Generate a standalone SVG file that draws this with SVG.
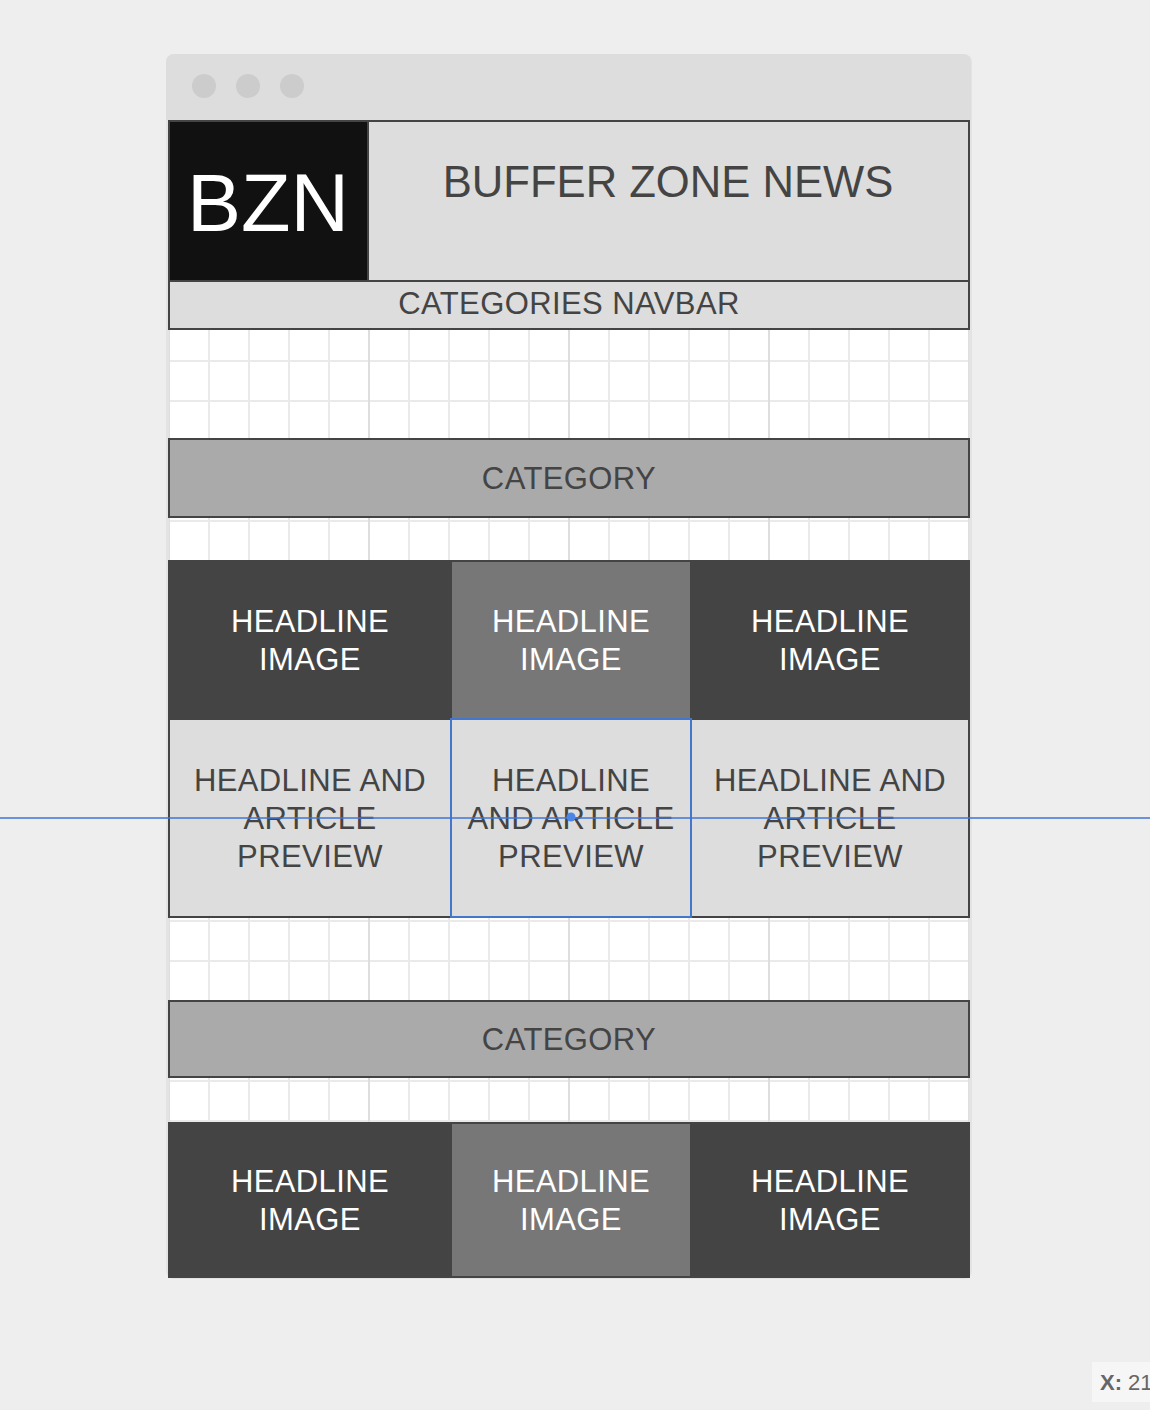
<svg xmlns="http://www.w3.org/2000/svg" width="1150" height="1410" viewBox="0 0 1150 1410">
<style>
.t{font-family:"Liberation Sans",Arial,sans-serif;text-anchor:middle}
.dk{fill:#444444}
.wt{fill:#ffffff}
.s30{font-size:31px;letter-spacing:0.4px}
.cell{stroke:#444444;stroke-width:2}
</style>
<defs>
<pattern id="minor" x="8" y="0" width="40" height="40" patternUnits="userSpaceOnUse">
<path d="M1 0V40M0 1H40" fill="none" stroke="#eaeaea" stroke-width="2"/>
</pattern>
<pattern id="major" x="168" y="0" width="200" height="40" patternUnits="userSpaceOnUse">
<path d="M1 0V40" fill="none" stroke="#dedede" stroke-width="2"/>
</pattern>
</defs>
<rect width="1150" height="1410" fill="#eeeeee"/>
<g id="window">
<rect x="166" y="54" width="806" height="1225" rx="8" fill="#e3e3e3"/>
<path d="M174 54H963A8 8 0 0 1 971 62V120H166V62A8 8 0 0 1 174 54Z" fill="#dddddd"/>
<circle cx="204" cy="86" r="12" fill="#cccccc"/>
<circle cx="248" cy="86" r="12" fill="#cccccc"/>
<circle cx="292" cy="86" r="12" fill="#cccccc"/>
<rect x="169" y="120" width="800" height="1157" fill="#ffffff"/>
<rect x="169" y="120" width="800" height="1157" fill="url(#minor)"/>
<rect x="169" y="120" width="800" height="1157" fill="url(#major)"/>
</g>
<g id="header">
<rect x="169" y="121" width="800" height="160" fill="#dddddd" class="cell"/>
<text x="668" y="197" class="t dk" font-size="43.6">BUFFER ZONE NEWS</text>
</g>
<g id="logo">
<rect x="169" y="121" width="199" height="160" fill="#111111" class="cell"/>
<text x="268" y="231" class="t wt" font-size="81">BZN</text>
</g>
<g id="navbar">
<rect x="169" y="281" width="800" height="48" fill="#dddddd" class="cell"/>
<text x="569" y="314" class="t dk s30">CATEGORIES NAVBAR</text>
</g>
<g id="category1">
<rect x="169" y="439" width="800" height="78" fill="#aaaaaa" class="cell"/>
<text x="569" y="489" class="t dk s30">CATEGORY</text>
</g>
<g id="img1a">
<rect x="169" y="561" width="282" height="158" fill="#444444" class="cell"/>
<text x="310" y="632" class="t wt s30">HEADLINE</text>
<text x="310" y="670" class="t wt s30">IMAGE</text>
</g>
<g id="img1b">
<rect x="451" y="561" width="240" height="158" fill="#777777" class="cell"/>
<text x="571" y="632" class="t wt s30">HEADLINE</text>
<text x="571" y="670" class="t wt s30">IMAGE</text>
</g>
<g id="img1c">
<rect x="691" y="561" width="278" height="158" fill="#444444" class="cell"/>
<text x="830" y="632" class="t wt s30">HEADLINE</text>
<text x="830" y="670" class="t wt s30">IMAGE</text>
</g>
<g id="preview1a">
<rect x="169" y="719" width="282" height="198" fill="#dddddd" class="cell"/>
<text x="310" y="791" class="t dk s30">HEADLINE AND</text>
<text x="310" y="829" class="t dk s30">ARTICLE</text>
<text x="310" y="867" class="t dk s30">PREVIEW</text>
</g>
<g id="preview1c">
<rect x="691" y="719" width="278" height="198" fill="#dddddd" class="cell"/>
<text x="830" y="791" class="t dk s30">HEADLINE AND</text>
<text x="830" y="829" class="t dk s30">ARTICLE</text>
<text x="830" y="867" class="t dk s30">PREVIEW</text>
</g>
<g id="preview1b">
<rect x="451" y="719" width="240" height="198" fill="#dddddd" stroke="#4477cc" stroke-width="2"/>
<text x="571" y="791" class="t dk s30">HEADLINE</text>
<text x="571" y="829" class="t dk s30">AND ARTICLE</text>
<text x="571" y="867" class="t dk s30">PREVIEW</text>
</g>
<g id="category2">
<rect x="169" y="1001" width="800" height="76" fill="#aaaaaa" class="cell"/>
<text x="569" y="1050" class="t dk s30">CATEGORY</text>
</g>
<g id="img2a">
<rect x="169" y="1123" width="282" height="154" fill="#444444" class="cell"/>
<text x="310" y="1192" class="t wt s30">HEADLINE</text>
<text x="310" y="1230" class="t wt s30">IMAGE</text>
</g>
<g id="img2b">
<rect x="451" y="1123" width="240" height="154" fill="#777777" class="cell"/>
<text x="571" y="1192" class="t wt s30">HEADLINE</text>
<text x="571" y="1230" class="t wt s30">IMAGE</text>
</g>
<g id="img2c">
<rect x="691" y="1123" width="278" height="154" fill="#444444" class="cell"/>
<text x="830" y="1192" class="t wt s30">HEADLINE</text>
<text x="830" y="1230" class="t wt s30">IMAGE</text>
</g>
<g id="guides">
<line x1="0" y1="818" x2="1150" y2="818" stroke="#3f74d6" stroke-width="1.5"/>
<circle cx="571" cy="817" r="4.5" fill="#4a86e8"/>
</g>
<g id="coords">
<rect x="1092" y="1362" width="60" height="40" fill="#f6f6f6"/>
<text x="1100" y="1390" font-family="Liberation Sans,Arial,sans-serif" font-size="22" fill="#666666"><tspan font-weight="bold">X:</tspan> 21</text>
</g>
</svg>
